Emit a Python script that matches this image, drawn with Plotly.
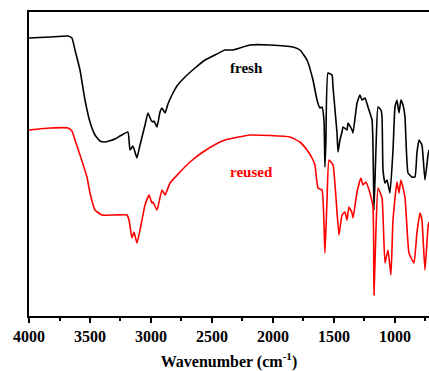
import plotly.graph_objects as go

# Fresh catalyst spectrum (wavenumber, relative transmittance a.u.)
fresh_wn = [4000, 3828, 3680, 3648, 3623, 3582, 3541, 3500, 3459, 3418, 3377, 3295, 3254, 3189,
            3172, 3148, 3131, 3115, 3090, 3049, 3025, 3000, 2984, 2975, 2951, 2926, 2910, 2885,
            2861, 2828, 2787, 2721, 2639, 2557, 2475, 2393, 2328, 2188, 2025, 1836, 1779, 1721,
            1672, 1639, 1615, 1598, 1582, 1574, 1566, 1549, 1516, 1508, 1475, 1467, 1451, 1434,
            1426, 1393, 1385, 1352, 1344, 1311, 1287, 1270, 1246, 1221, 1188, 1180, 1172, 1156,
            1139, 1115, 1106, 1098, 1082, 1065, 1041, 1016, 1000, 984, 967, 951, 934, 918, 893,
            861, 836, 820, 803, 779, 754, 729, 721]
fresh_t = [278, 279, 280, 278, 266, 246, 216, 194, 181, 175, 174, 177, 180, 184,
           166, 170, 164, 158, 171, 191, 203, 196, 194, 195, 189, 204, 208, 203,
           212, 221, 230, 239, 248, 256, 261, 266, 266, 271, 271, 269, 266, 256,
           236, 216, 208, 209, 196, 149, 176, 243, 241, 229, 183, 164, 176, 184,
           189, 186, 193, 186, 183, 213, 221, 216, 218, 209, 196, 169, 106, 166,
           209, 206, 199, 146, 133, 136, 123, 166, 209, 216, 203, 216, 211, 199, 143,
           139, 139, 163, 176, 171, 136, 161, 166]

# Reused catalyst spectrum
reused_wn = [4000, 3828, 3680, 3648, 3623, 3582, 3525, 3500, 3459, 3402, 3295, 3197, 3180, 3156,
             3139, 3115, 3090, 3049, 3016, 2992, 2984, 2951, 2910, 2885, 2844, 2762, 2680, 2574,
             2451, 2393, 2188, 1861, 1779, 1721, 1680, 1656, 1631, 1598, 1574, 1557, 1541, 1508,
             1484, 1459, 1434, 1410, 1393, 1377, 1352, 1344, 1311, 1279, 1262, 1238, 1205, 1180,
             1172, 1156, 1139, 1106, 1082, 1057, 1033, 1016, 984, 967, 951, 918, 885, 844, 820,
             795, 779, 754, 729, 721]
reused_t = [186, 188, 188, 185, 176, 161, 139, 123, 106, 101, 101, 101, 96, 78,
            84, 73, 86, 111, 121, 113, 114, 106, 126, 121, 133, 144, 154, 164,
            173, 176, 181, 179, 174, 166, 158, 151, 128, 126, 63, 116, 156, 151,
            119, 81, 101, 104, 96, 109, 103, 98, 124, 138, 131, 134, 123, 109,
            21, 86, 128, 118, 53, 66, 41, 96, 134, 123, 136, 119, 63, 53, 83,
            103, 96, 46, 89, 94]

x_ticks = [4000, 3500, 3000, 2500, 2000, 1500, 1000]
labels = ["fresh", "reused"]

FONT = "Liberation Serif, Times New Roman, serif"

fig = go.Figure()
fig.add_trace(go.Scatter(x=fresh_wn, y=fresh_t, mode="lines",
                         line=dict(color="#000000", width=1.6, shape="spline", smoothing=0.4),
                         name=labels[0]))
fig.add_trace(go.Scatter(x=reused_wn, y=reused_t, mode="lines",
                         line=dict(color="#ff0000", width=1.6, shape="spline", smoothing=0.4),
                         name=labels[1]))

fig.add_annotation(x=2213, y=248, text="<b>fresh</b>", showarrow=False,
                   font=dict(family=FONT, size=15, color="#000000"))
fig.add_annotation(x=2172, y=144, text="<b>reused</b>", showarrow=False,
                   font=dict(family=FONT, size=15, color="#ff0000"))

fig.update_layout(
    width=429, height=371,
    margin=dict(l=29, r=0, t=12, b=55),
    paper_bgcolor="white", plot_bgcolor="white",
    showlegend=False,
    xaxis=dict(
        range=[4000, 721], tickvals=x_ticks, ticktext=["<b>%d</b>" % v for v in x_ticks],
        showgrid=False, zeroline=False,
        showline=True, linecolor="black", linewidth=2, mirror=True,
        ticks="outside", ticklen=5, tickwidth=2, tickcolor="black",
        minor=dict(dtick=250, tick0=0, ticks="outside", ticklen=3, tickwidth=2, tickcolor="black"),
        tickfont=dict(family=FONT, size=16, color="black"),
        title=dict(text="<b>Wavenumber (cm<sup>-1</sup>)</b>",
                   font=dict(family=FONT, size=16, color="black"), standoff=12),
    ),
    yaxis=dict(
        range=[0, 304], showgrid=False, zeroline=False,
        showline=True, linecolor="black", linewidth=2,
        showticklabels=False, ticks="",
    ),
)

fig.write_html("out.html")
